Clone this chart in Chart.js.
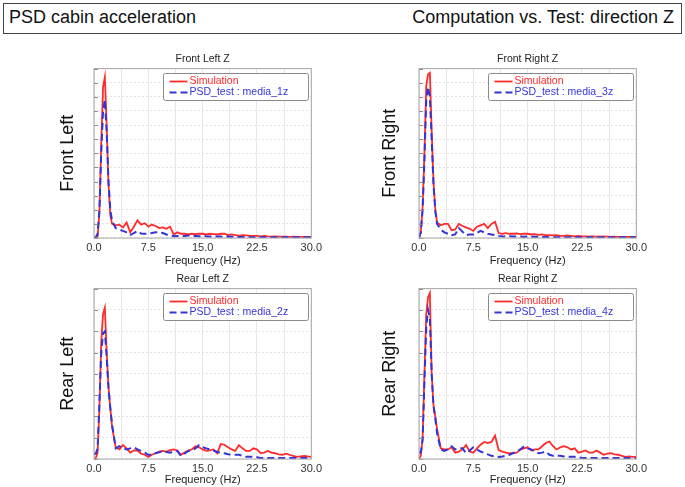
<!DOCTYPE html>
<html>
<head>
<meta charset="utf-8">
<script src="https://cdn.jsdelivr.net/npm/chart.js@4.4.1/dist/chart.umd.min.js"></script>
<style>
  body { margin: 0; width: 685px; height: 487px; overflow: hidden; background: #fff; font-family: "Liberation Sans", Arial, sans-serif; }
  #cabecera { position: absolute; left: 3px; top: 3px; width: 679px; height: 31px; box-sizing: border-box; border: 1.5px solid #444; font-size: 18px; color: #111; }
  #cabecera span { position: absolute; top: 3px; white-space: nowrap; }
  .grafico { position: absolute; }
</style>
</head>
<body>
<div id="cabecera"><span style="left:5px">PSD cabin acceleration</span><span style="right:7px">Computation vs. Test: direction Z</span></div>
<div class="grafico" style="left:55px;top:50px;width:270px;height:222px"><canvas id="g1"></canvas></div>
<div class="grafico" style="left:377px;top:50px;width:273px;height:222px"><canvas id="g2"></canvas></div>
<div class="grafico" style="left:55px;top:270px;width:270px;height:223px"><canvas id="g3"></canvas></div>
<div class="grafico" style="left:377px;top:270px;width:273px;height:223px"><canvas id="g4"></canvas></div>
<script>
// Frecuencias (Hz): paso 0.25 hasta 2.5, luego 0.5
const frecuencias = [0, 0.25, 0.5, 0.75, 1.0, 1.25, 1.5, 1.75, 2.0, 2.25, 2.5,
    3, 3.5, 4, 4.5, 5, 5.5, 6, 6.5, 7, 7.5, 8, 8.5, 9, 9.5, 10, 10.5, 11, 11.5, 12, 12.5,
    13, 13.5, 14, 14.5, 15, 15.5, 16, 16.5, 17, 17.5, 18, 18.5, 19, 19.5, 20, 20.5,
    21, 21.5, 22, 22.5, 23, 23.5, 24, 24.5, 25, 25.5, 26, 26.5, 27, 27.5, 28, 28.5, 29, 29.5, 30];

const etiquetasX = ["0.0", "7.5", "15.0", "22.5", "30.0"];

// Delantera izquierda
const simDelIzq = [0, 0.02, 0.1, 1.8, 6.7, 10.7, 11.4, 8.0, 3.8, 1.6, 1.0,
    0.9, 0.95, 0.75, 1.1, 0.4, 0.8, 1.25, 0.95, 1.05, 0.8,
    0.95, 0.85, 0.7, 0.75, 0.65, 0.8, 0.25, 0.4, 0.3, 0.3,
    0.25, 0.3, 0.28, 0.3, 0.3, 0.25, 0.3, 0.28, 0.25, 0.3,
    0.3, 0.2, 0.25, 0.2, 0.15, 0.2, 0.18, 0.15, 0.15, 0.15,
    0.12, 0.15, 0.12, 0.1, 0.12, 0.1, 0.1, 0.1, 0.08, 0.1,
    0.08, 0.08, 0.08, 0.07, 0.07];
const testDelIzq = [0, 0.05, 0.3, 2.0, 6.0, 9.0, 9.8, 7.5, 4.0, 2.0, 1.2,
    0.7, 0.6, 0.5, 0.4, 0.22, 0.35, 0.5, 0.32, 0.3, 0.3,
    0.35, 0.4, 0.4, 0.35, 0.25, 0.2, 0.12, 0.15, 0.15, 0.15,
    0.18, 0.15, 0.15, 0.12, 0.15, 0.12, 0.1, 0.12, 0.1, 0.1,
    0.08, 0.1, 0.08, 0.08, 0.07, 0.07, 0.06, 0.06, 0.06, 0.06,
    0.05, 0.05, 0.05, 0.05, 0.05, 0.05, 0.05, 0.05, 0.05, 0.05,
    0.05, 0.05, 0.05, 0.05, 0.05];

// Delantera derecha
const simDelDer = [0, 0.4, 2.2, 6.0, 10.8, 11.6, 11.7, 7.6, 4.0, 2.0, 1.1,
    0.9, 1.0, 1.0, 0.55, 0.6, 1.0, 0.85, 0.75, 0.65, 0.5,
    0.8, 0.9, 1.0, 0.7, 1.0, 1.15, 0.35, 0.3, 0.35, 0.3,
    0.3, 0.32, 0.28, 0.3, 0.3, 0.25, 0.28, 0.22, 0.25, 0.2,
    0.2, 0.18, 0.2, 0.15, 0.15, 0.18, 0.15, 0.12, 0.15, 0.12,
    0.12, 0.1, 0.12, 0.1, 0.1, 0.12, 0.1, 0.08, 0.1, 0.08,
    0.08, 0.08, 0.07, 0.08, 0.07];
const testDelDer = [0, 0.4, 2.0, 5.5, 9.8, 10.7, 10.0, 7.0, 3.8, 1.9, 1.0,
    0.6, 0.4, 0.3, 0.2, 0.25, 0.7, 0.45, 0.2, 0.25, 0.25,
    0.35, 0.5, 0.4, 0.3, 0.25, 0.2, 0.15, 0.12, 0.1, 0.12,
    0.1, 0.1, 0.1, 0.08, 0.1, 0.08, 0.08, 0.08, 0.07, 0.07,
    0.06, 0.06, 0.06, 0.06, 0.05, 0.05, 0.05, 0.05, 0.05, 0.05,
    0.05, 0.05, 0.05, 0.05, 0.05, 0.05, 0.05, 0.05, 0.05, 0.05,
    0.05, 0.05, 0.05, 0.05, 0.05];

// Trasera izquierda
const simTraIzq = [0, 0.05, 0.3, 2.4, 5.5, 6.8, 7.1, 5.0, 3.4, 2.4, 1.5,
    0.55, 0.45, 0.65, 0.5, 0.3, 0.4, 0.4, 0.25, 0.2, 0.1,
    0.2, 0.27, 0.35, 0.38, 0.35, 0.42, 0.45, 0.4, 0.2, 0.3,
    0.4, 0.45, 0.6, 0.55, 0.45, 0.38, 0.4, 0.45, 0.27, 0.7,
    0.67, 0.55, 0.45, 0.38, 0.65, 0.5, 0.38, 0.38, 0.5, 0.45,
    0.28, 0.3, 0.38, 0.3, 0.27, 0.22, 0.2, 0.25, 0.2, 0.15,
    0.1, 0.12, 0.15, 0.12, 0.1];
const testTraIzq = [0.25, 0.25, 0.5, 2.7, 5.0, 5.9, 6.0, 4.8, 3.3, 2.4, 1.6,
    0.5, 0.6, 0.5, 0.45, 0.5, 0.55, 0.45, 0.38, 0.3, 0.2,
    0.2, 0.27, 0.32, 0.38, 0.33, 0.3, 0.35, 0.38, 0.15, 0.25,
    0.38, 0.4, 0.5, 0.65, 0.55, 0.5, 0.45, 0.4, 0.33, 0.3,
    0.27, 0.22, 0.2, 0.2, 0.2, 0.15, 0.1, 0.1, 0.1, 0.08,
    0.05, 0.05, 0.05, 0.05, 0.05, 0.05, 0.05, 0.05, 0.05, 0.05,
    0.05, 0.05, 0.05, 0.05, 0.05];

// Trasera derecha
const simTraDer = [0, 0.15, 1.0, 4.0, 6.8, 7.6, 7.8, 4.0, 2.5, 2.0, 1.4,
    0.5, 0.45, 0.45, 0.55, 0.3, 0.35, 0.45, 0.65, 0.35, 0.3,
    0.5, 0.67, 0.8, 0.75, 0.8, 1.1, 0.42, 0.35, 0.3, 0.27,
    0.28, 0.3, 0.45, 0.5, 0.55, 0.4, 0.45, 0.45, 0.6, 0.75,
    0.82, 0.6, 0.45, 0.55, 0.6, 0.55, 0.45, 0.5, 0.3, 0.35,
    0.4, 0.3, 0.3, 0.4, 0.3, 0.2, 0.25, 0.27, 0.22, 0.2,
    0.15, 0.1, 0.12, 0.1, 0.1];
const testTraDer = [0.3, 0.3, 0.9, 3.6, 6.2, 7.0, 6.6, 4.0, 2.5, 1.9, 1.2,
    0.45, 0.38, 0.45, 0.6, 0.45, 0.5, 0.5, 0.27, 0.4, 0.55,
    0.45, 0.35, 0.28, 0.22, 0.15, 0.12, 0.1, 0.12, 0.15, 0.2,
    0.28, 0.35, 0.45, 0.6, 0.5, 0.45, 0.35, 0.27, 0.3, 0.35,
    0.2, 0.15, 0.15, 0.15, 0.12, 0.1, 0.1, 0.1, 0.08, 0.05,
    0.05, 0.05, 0.05, 0.05, 0.05, 0.05, 0.05, 0.05, 0.05, 0.05,
    0.05, 0.05, 0.05, 0.05, 0.05];

Chart.defaults.font.family = '"Liberation Sans", Arial, sans-serif';

function puntos(valores) {
    return frecuencias.map((f, i) => ({ x: f, y: valores[i] }));
}

// Marco del área, marcas internas del eje Y y leyenda dentro del gráfico
const marco = {
    id: "marco",
    afterDatasetsDraw(chart) {
        const { ctx, chartArea: a } = chart;
        const y = chart.scales.y;
        ctx.save();
        ctx.lineWidth = 1;
        ctx.strokeStyle = "#8c8c8c";
        y.ticks.forEach(t => {
            const py = Math.round(y.getPixelForValue(t.value)) + 0.5;
            ctx.beginPath();
            ctx.moveTo(a.left, py);
            ctx.lineTo(a.left + 4, py);
            ctx.stroke();
        });
        ctx.strokeStyle = "#a6a6a6";
        ctx.strokeRect(a.left, a.top, a.width, a.height);

        const ancho = 145, alto = 27;
        const x0 = Math.round(a.right - 3 - ancho) + 0.5, y0 = Math.round(a.top + 4) + 0.5;
        ctx.fillStyle = "#fff";
        ctx.strokeStyle = "#8a8a8a";
        ctx.beginPath();
        ctx.roundRect(x0, y0, ancho, alto, 2);
        ctx.fill();
        ctx.stroke();
        ctx.font = '10.5px "Liberation Sans", Arial, sans-serif';
        ctx.textBaseline = "middle";
        chart.data.datasets.forEach((ds, i) => {
            const yy = y0 + 8 + i * 11;
            ctx.strokeStyle = ds.borderColor;
            ctx.lineWidth = ds.borderWidth;
            ctx.setLineDash(ds.borderDash || []);
            ctx.beginPath();
            ctx.moveTo(x0 + 6, yy);
            ctx.lineTo(x0 + 24, yy);
            ctx.stroke();
            ctx.setLineDash([]);
            ctx.fillStyle = ds.borderColor;
            ctx.fillText(ds.label, x0 + 26, yy);
        });
        ctx.restore();
    }
};

function crearGrafico(id, titulo, etiquetaY, maxY, sim, prueba, nombrePrueba, anchoEje, margenTituloX) {
    return new Chart(document.getElementById(id), {
        type: "line",
        data: {
            datasets: [
                { label: "Simulation", data: puntos(sim), borderColor: "#ff2a2a", borderWidth: 1.8, pointRadius: 0, order: 1 },
                { label: nombrePrueba, data: puntos(prueba), borderColor: "#3434d6", borderWidth: 2, borderDash: [7, 4], pointRadius: 0, order: 0 }
            ]
        },
        options: {
            animation: false,
            responsive: true,
            maintainAspectRatio: false,
            layout: { padding: { left: 0, right: 11, top: 0, bottom: 0 } },
            plugins: {
                legend: { display: false },
                tooltip: { enabled: false },
                title: {
                    display: true, text: titulo, fullSize: false, color: "#222",
                    font: { size: 10.5, weight: "normal" }, padding: { top: 3, bottom: 3 }
                }
            },
            scales: {
                x: {
                    type: "linear", min: 0, max: 30,
                    afterFit: s => { s.height = 34; },
                    ticks: {
                        stepSize: 3.75, autoSkip: false, maxRotation: 0, padding: 3, color: "#333",
                        font: { size: 11 },
                        callback: v => {
                            const k = v / 7.5;
                            return Math.abs(k - Math.round(k)) < 1e-6 ? etiquetasX[Math.round(k)] : "";
                        }
                    },
                    grid: { color: "#e6e6e6", drawTicks: false },
                    border: { display: false },
                    title: {
                        display: true, text: "Frequency (Hz)", color: "#222",
                        font: { size: 11 }, padding: { top: 0, bottom: margenTituloX }
                    }
                },
                y: {
                    min: 0, max: maxY,
                    afterFit: s => { s.width = anchoEje; },
                    ticks: { display: false, stepSize: 1 },
                    grid: { color: "#e2e2e2", drawTicks: false },
                    border: { display: false, dash: [2, 2] },
                    title: {
                        display: true, text: etiquetaY, color: "#111",
                        font: { size: 18 }, padding: { top: 2, bottom: 0 }
                    }
                }
            }
        },
        plugins: [marco]
    });
}

crearGrafico("g1", "Front Left Z", "Front Left", 12, simDelIzq, testDelIzq, "PSD_test : media_1z", 39, 4.4);
crearGrafico("g2", "Front Right Z", "Front Right", 12, simDelDer, testDelDer, "PSD_test : media_3z", 42, 4.4);
crearGrafico("g3", "Rear Left Z", "Rear Left", 8, simTraIzq, testTraIzq, "PSD_test : media_2z", 39, 6.5);
crearGrafico("g4", "Rear Right Z", "Rear Right", 8, simTraDer, testTraDer, "PSD_test : media_4z", 42, 6.5);
</script>
</body>
</html>
